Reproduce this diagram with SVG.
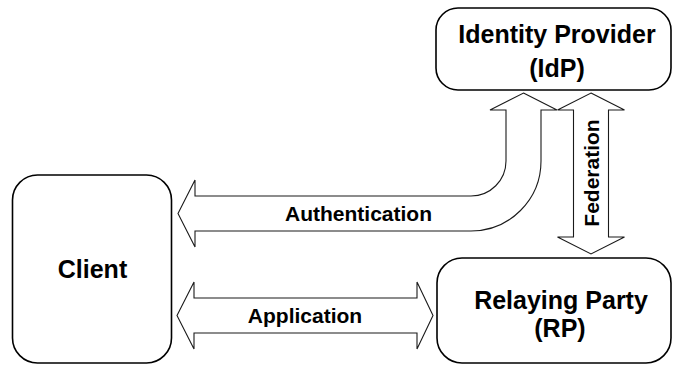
<svg xmlns="http://www.w3.org/2000/svg" width="673" height="365" viewBox="0 0 673 365">
  <style>
    .box { fill: #ffffff; stroke: #000000; stroke-width: 1.6; }
    .arrow { fill: #ffffff; stroke: #1a1a1a; stroke-width: 1.1; stroke-linejoin: miter; }
    .big { font-family: "Liberation Sans", Arial, sans-serif; font-weight: bold; font-size: 25px; fill: #000000; text-anchor: middle; }
    .small { font-family: "Liberation Sans", Arial, sans-serif; font-weight: bold; font-size: 21px; fill: #000000; text-anchor: middle; }
  </style>
  <rect width="673" height="365" fill="#ffffff"/>

  <!-- block arrows -->
  <g id="connectors">
    <!-- Authentication: IdP down and left to Client -->
    <path class="arrow" d="M 523.5 93 L 557 110 L 541 110 L 541 161 A 70 70 0 0 1 471 231 L 195 231 L 195 247 L 178 213.5 L 195 180 L 195 196 L 471 196 A 35 35 0 0 0 506 161 L 506 110 L 490 110 Z"/>
    <!-- Federation: IdP <-> RP -->
    <path class="arrow" d="M 591 93 L 624.5 110 L 608.5 110 L 608.5 237 L 624.5 237 L 591 254 L 557.5 237 L 573.5 237 L 573.5 110 L 557.5 110 Z"/>
    <!-- Application: Client <-> RP -->
    <path class="arrow" d="M 177 315.5 L 194 282 L 194 298 L 417 298 L 417 282 L 433 315.5 L 417 349 L 417 333 L 194 333 L 194 349 Z"/>
    <text class="small" x="358.5" y="221">Authentication</text>
    <text class="small" x="305" y="323">Application</text>
    <text class="small" transform="translate(598.5 173) rotate(-90)">Federation</text>
  </g>

  <g id="idp">
    <rect class="box" x="436" y="8" width="235" height="82" rx="22" ry="22"/>
    <text class="big" x="557" y="42.5">Identity Provider</text>
    <text class="big" x="557" y="76.5">(IdP)</text>
  </g>

  <g id="client">
    <rect class="box" x="12.5" y="175" width="159" height="188" rx="25" ry="25"/>
    <text class="big" x="92.5" y="277.5">Client</text>
  </g>

  <g id="rp">
    <rect class="box" x="437" y="258" width="234" height="105" rx="25" ry="25"/>
    <text class="big" x="561" y="308.5">Relaying Party</text>
    <text class="big" x="560" y="337">(RP)</text>
  </g>
</svg>
